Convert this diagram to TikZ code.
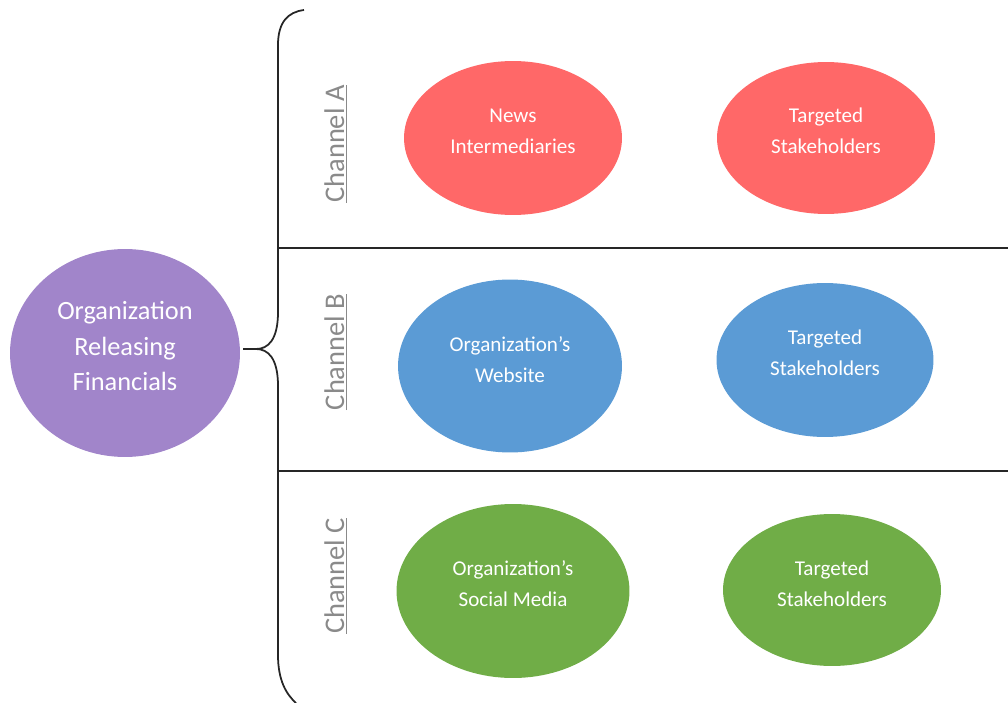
\documentclass[tikz,border=0pt]{standalone}
\usepackage{fontspec}
\setmainfont{Carlito}
\usepackage{tikz}
\usetikzlibrary{shapes.geometric}

\definecolor{orgpurple}{HTML}{A185CA}
\definecolor{chanred}{HTML}{FF6868}
\definecolor{chanblue}{HTML}{5B9BD5}
\definecolor{changreen}{HTML}{70AD47}
\definecolor{labelgray}{HTML}{8A8A8A}

\tikzset{
    blob/.style={ellipse, inner sep=0pt},
    blobtext/.style={text=white, align=center, font=\fontsize{12}{17.5}\selectfont},
    chanlabel/.style={rotate=90, text=labelgray, inner sep=0pt, font=\fontsize{16.2}{19}\selectfont},
    rule/.style={line width=1.1pt, black!85}
}

\begin{document}
\begin{tikzpicture}[x=0.02cm, y=-0.02cm]
        \useasboundingbox (0,0) rectangle (1008,703);
        % source
        \node[blob, fill=orgpurple, minimum width=4.6cm, minimum height=4.16cm] (org) at (125,353) {};
        \node[blobtext, font=\fontsize{15}{20}\selectfont] (orgtext) at (125,346) {Organization\\Releasing\\Financials};
        % brace
        \coordinate (Btop) at (304,10);
        \coordinate (Btip) at (243,349);
        \coordinate (Bbot) at (296,703);
        \draw[line width=1pt, black!85] (Btop) .. controls (288,12) and (278,22) .. (278,45) -- (278,312)
            .. controls (278,340) and (268,349) .. (256,349) -- (Btip);
        \draw[line width=1pt, black!85] (Btip) -- (256,349) .. controls (268,349) and (278,358) .. (278,386)
            -- (278,655) .. controls (278,680) and (286,694) .. (Bbot);
        % separators
        \coordinate (R1a) at (278,248); \coordinate (R1b) at (1008,248);
        \coordinate (R2a) at (278,471); \coordinate (R2b) at (1008,471);
        \draw[rule] (R1a) -- (R1b);
        \draw[rule] (R2a) -- (R2b);
        % channel labels
        \node[chanlabel] (chanA) at (336,144) {\underline{Channel A}};
        \node[chanlabel] (chanB) at (336,352) {\underline{Channel B}};
        \node[chanlabel] (chanC) at (336,576) {\underline{Channel C}};
        % channel A
        \node[blob, fill=chanred, minimum width=4.36cm, minimum height=3.08cm] (newsA) at (513,138) {};
        \node[blobtext] (newsAtext) at (513,131) {News\\Intermediaries};
        \node[blob, fill=chanred, minimum width=4.36cm, minimum height=3.04cm] (stakeA) at (826,138) {};
        \node[blobtext] (stakeAtext) at (826,131) {Targeted\\Stakeholders};
        % channel B
        \node[blob, fill=chanblue, minimum width=4.48cm, minimum height=3.46cm] (webB) at (510,366) {};
        \node[blobtext] (webBtext) at (510,360) {Organization’s\\Website};
        \node[blob, fill=chanblue, minimum width=4.34cm, minimum height=3.08cm] (stakeB) at (825,360) {};
        \node[blobtext] (stakeBtext) at (825,353) {Targeted\\Stakeholders};
        % channel C
        \node[blob, fill=changreen, minimum width=4.66cm, minimum height=3.48cm] (socialC) at (513,591) {};
        \node[blobtext] (socialCtext) at (513,584) {Organization’s\\Social Media};
        \node[blob, fill=changreen, minimum width=4.36cm, minimum height=3.04cm] (stakeC) at (832,590) {};
        \node[blobtext] (stakeCtext) at (832,584) {Targeted\\Stakeholders};
    \end{tikzpicture}
\end{document}
